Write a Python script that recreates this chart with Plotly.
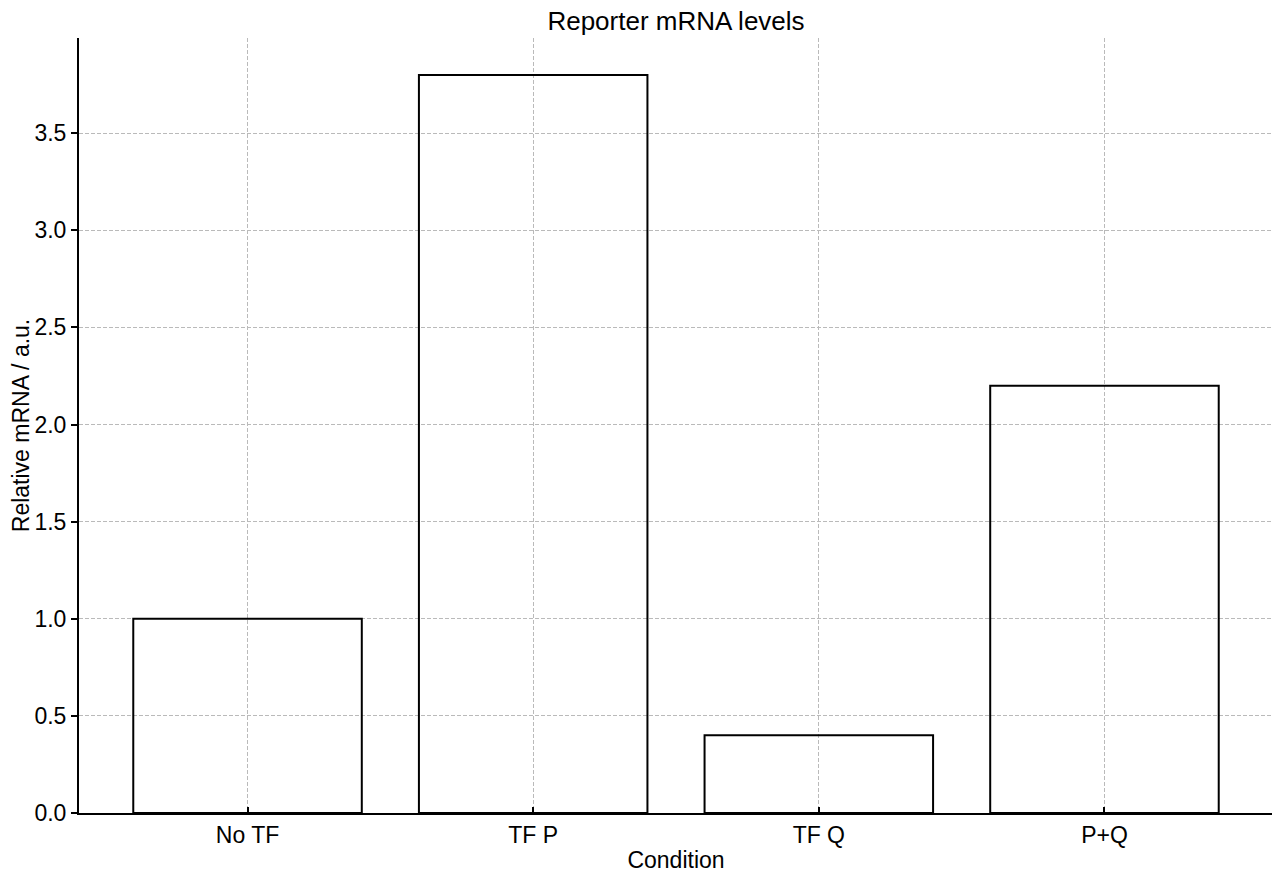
import plotly.graph_objects as go

# data
conditions = ["No TF", "TF P", "TF Q", "P+Q"]
mrna_levels = [1.0, 3.8, 0.4, 2.2]
y_ticks = [0.0, 0.5, 1.0, 1.5, 2.0, 2.5, 3.0, 3.5]

fig = go.Figure()
fig.add_trace(
    go.Bar(
        x=list(range(len(conditions))),
        y=mrna_levels,
        width=0.8,
        marker=dict(color="rgba(0,0,0,0)", line=dict(color="black", width=2)),
    )
)

font_family = "Liberation Sans, Arial, sans-serif"

# page has an 8px body margin, margins below take that into account
fig.update_layout(
    width=1280,
    height=880,
    title=dict(
        text="Reporter mRNA levels",
        x=0.5,
        xanchor="center",
        xref="paper",
        y=0.985,
        yanchor="middle",
        font=dict(size=26, color="black", family=font_family),
    ),
    font=dict(family=font_family, color="black", size=23),
    plot_bgcolor="white",
    paper_bgcolor="white",
    showlegend=False,
    margin=dict(l=71, r=15, t=30, b=75),
)

fig.update_xaxes(
    tickvals=list(range(len(conditions))),
    ticktext=conditions,
    range=[-0.59, 3.59],
    automargin=False,
    showline=True,
    linecolor="black",
    linewidth=2,
    ticks="inside",
    ticklen=6,
    tickwidth=2,
    tickcolor="black",
    showgrid=True,
    gridcolor="#bababa",
    griddash="4px,2px",
    gridwidth=1,
    zeroline=False,
    title=dict(text="Condition", standoff=5, font=dict(size=23)),
    tickfont=dict(size=23),
)

fig.update_yaxes(
    tickvals=y_ticks,
    tickformat=".1f",
    range=[0, 3.99],
    automargin=False,
    showline=True,
    linecolor="black",
    linewidth=2,
    ticks="outside",
    ticklen=6,
    tickwidth=2,
    tickcolor="black",
    showgrid=True,
    gridcolor="#bababa",
    griddash="4px,2px",
    gridwidth=1,
    zeroline=False,
    title=dict(text="Relative mRNA / a.u.", standoff=15, font=dict(size=23)),
    tickfont=dict(size=23),
)

fig.write_html("out.html")
